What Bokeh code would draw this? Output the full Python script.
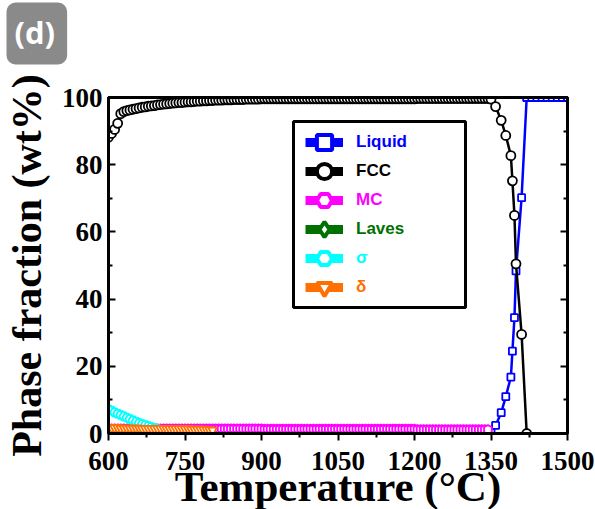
import math
from bokeh.plotting import figure
from bokeh.models import (Range1d, LinearAxis, FixedTicker, Legend, LegendItem,
                          BoxAnnotation, Title)
from bokeh.embed import file_html
from bokeh.resources import INLINE

# ---------------- data ----------------
# solid-state calculation steps (deg C)
T_grid = list(range(600, 1351, 6))
# melting-range steps (deg C)
T_melt = [1359, 1370, 1379, 1389, 1392, 1396, 1399, 1410, 1420]
T_liq_top = [1430, 1440, 1450, 1460, 1470, 1480, 1490, 1500]

fcc_grid = ([88.2, 89.3, 90.5, 92.3, 95.2, 95.8, 96.1, 96.3, 96.5, 96.7,
             96.9, 97.1, 97.2, 97.4, 97.5, 97.6, 97.8, 97.9, 98.0, 98.1,
             98.2, 98.3, 98.4, 98.5, 98.5, 98.6, 98.7, 98.7, 98.8, 98.9,
             98.9, 99.0, 99.0, 99.1, 99.1, 99.2, 99.2, 99.2, 99.3, 99.3,
             99.3, 99.4, 99.4, 99.4, 99.4, 99.5, 99.5, 99.5, 99.5, 99.5,
             99.6]
            + [99.6] * 50 + [99.7] * 24 + [99.5])
fcc_melt = [97.3, 93.2, 88.7, 82.7, 75.2, 64.9, 50.5, 29.5, 0.0]

liquid_T = [1350] + T_melt + T_liq_top
liquid = [0.4, 2.4, 6.2, 11.0, 16.8, 24.5, 34.5, 48.4, 70.2, 100.0] + [100.0] * 8

mc_T = T_grid[:125]
mc = [1.4] * 51 + [1.3] * 50 + [1.2] * 24

laves_T = []
laves = []

sigma_T = T_grid[:18]
sigma = [7.2, 6.8, 6.3, 5.9, 5.5, 5.1, 4.7, 4.3, 3.9, 3.5,
         3.1, 2.8, 2.5, 2.2, 1.9, 1.6, 1.3, 1.0]

delta_T = T_grid[:35]
delta = [1.7, 1.7, 1.7, 1.7, 1.6, 1.6, 1.6, 1.6, 1.6, 1.6,
         1.6, 1.5, 1.5, 1.5, 1.5, 1.5, 1.5, 1.5, 1.5, 1.4,
         1.4, 1.4, 1.4, 1.4, 1.4, 1.4, 1.4, 1.3, 1.3, 1.3,
         1.3, 1.3, 1.2, 1.1, 1.0]

x_ticks = [600, 750, 900, 1050, 1200, 1350, 1500]
x_minor = [675, 825, 975, 1125, 1275, 1425]
y_ticks = [0, 20, 40, 60, 80, 100]
y_minor = [10, 30, 50, 70, 90]

series = [
    ("Liquid", liquid_T, liquid, "#0000ff", "square", 7, 0.0),
    ("FCC", T_grid + T_melt, fcc_grid + fcc_melt, "#000000", "circle", 9, 0.0),
    ("MC", mc_T, mc, "#ff00ff", "hex", 9, math.pi / 6),
    ("Laves", laves_T, laves, "#007000", "diamond", 10, 0.0),
    ("\u03c3", sigma_T, sigma, "#00ffff", "hex", 9, 0.0),
    ("\u03b4", delta_T, delta, "#ff7000", "inverted_triangle", 9, 0.0),
]

# ---------------- figure ----------------
SERIF = "Liberation Serif"
p = figure(frame_width=459, frame_height=336,
           x_range=Range1d(600, 1500), y_range=Range1d(0, 100),
           output_backend="svg", toolbar_location=None,
           min_border_left=108, min_border_right=28, min_border_top=97, min_border_bottom=76)
p.xgrid.visible = False
p.ygrid.visible = False
p.outline_line_color = "black"
p.outline_line_width = 3
p.background_fill_color = "white"
p.border_fill_color = "white"

xa = p.below[0]
ya = p.left[0]

# spacer axis on top (frame line only, invisible tick) so that the panel label sits higher
ta = LinearAxis(ticker=FixedTicker(ticks=[1050]), axis_line_width=3,
                major_label_overrides={1050: ""}, major_label_text_font_size="1px",
                major_tick_out=33, major_tick_in=0, minor_tick_out=0, minor_tick_in=0,
                major_tick_line_color=None, major_label_standoff=0)
p.add_layout(ta, "above")

# panel label "(d)"
p.title = Title(text="(d)", align="left", offset=-102, standoff=0,
                text_font="Open Sans", text_font_size="31px", text_font_style="bold",
                text_color="white", background_fill_color="#8a8a8a",
                border_radius=9, padding=(8, 12, 8, 12))

xa.ticker = FixedTicker(ticks=x_ticks, minor_ticks=x_minor)
xa.major_tick_out = 7
xa.major_tick_in = 0
xa.minor_tick_out = 4
xa.minor_tick_in = 0
xa.major_label_standoff = 11
xa.axis_label = "Temperature (\u00b0C)"
xa.axis_label_standoff = -10
xa.axis_label_text_font_size = "43px"

ya.ticker = FixedTicker(ticks=y_ticks, minor_ticks=y_minor)
ya.major_tick_in = 7
ya.major_tick_out = 0
ya.minor_tick_in = 4
ya.minor_tick_out = 0
ya.major_label_standoff = 6
ya.axis_label = "Phase fraction (wt%)"
ya.axis_label_standoff = 9
ya.axis_label_text_font_size = "42px"

for ax in (xa, ya):
    ax.axis_line_width = 3
    ax.major_tick_line_width = 2
    ax.minor_tick_line_width = 2
    ax.major_label_text_font = SERIF
    ax.major_label_text_font_style = "bold"
    ax.major_label_text_font_size = "27px"
    ax.major_label_text_color = "black"
    ax.axis_label_text_font = SERIF
    ax.axis_label_text_font_style = "bold"
    ax.axis_label_text_color = "black"

ra = LinearAxis(ticker=FixedTicker(ticks=y_ticks, minor_ticks=y_minor),
                major_label_overrides={t: "" for t in y_ticks},
                axis_line_width=3,
                major_tick_in=7, major_tick_out=0, minor_tick_in=4, minor_tick_out=0,
                major_tick_line_width=2, minor_tick_line_width=2, major_label_standoff=0)
p.add_layout(ra, "right")

# data
for name, xs, ys, color, marker, size, ang in series:
    p.line(xs, ys, line_color=color, line_width=2.5)
    p.scatter(xs, ys, marker=marker, size=size, angle=ang, fill_color="white",
              line_color=color, line_width=1.8)

# legend frame
box = BoxAnnotation(left=185, right=357, bottom=126, top=312,
                    left_units="screen", right_units="screen",
                    bottom_units="screen", top_units="screen",
                    fill_color="white", fill_alpha=1.0,
                    line_color="black", line_alpha=1.0, line_width=3)
p.add_layout(box)

nan = float("nan")
for k, (name, xs, ys, color, marker, size, ang) in enumerate(series):
    lr = p.line(x=[nan], y=[nan], line_color=color, line_width=9)
    mr = p.scatter(x=[nan], y=[nan], marker=marker, size=20, angle=ang, fill_color="white",
                   line_color=color, line_width=4)
    leg = Legend(items=[LegendItem(label=name, renderers=[lr, mr])],
                 location=(197, 266 - 29 * k), orientation="vertical",
                 border_line_color=None, background_fill_alpha=0.0,
                 padding=0, margin=0, spacing=0,
                 glyph_width=38, glyph_height=50, label_height=22,
                 label_standoff=13, label_text_color=color,
                 label_text_font="Liberation Sans", label_text_font_style="bold",
                 label_text_font_size="17px")
    p.add_layout(leg)

open("out.html", "w").write(file_html(p, INLINE))
